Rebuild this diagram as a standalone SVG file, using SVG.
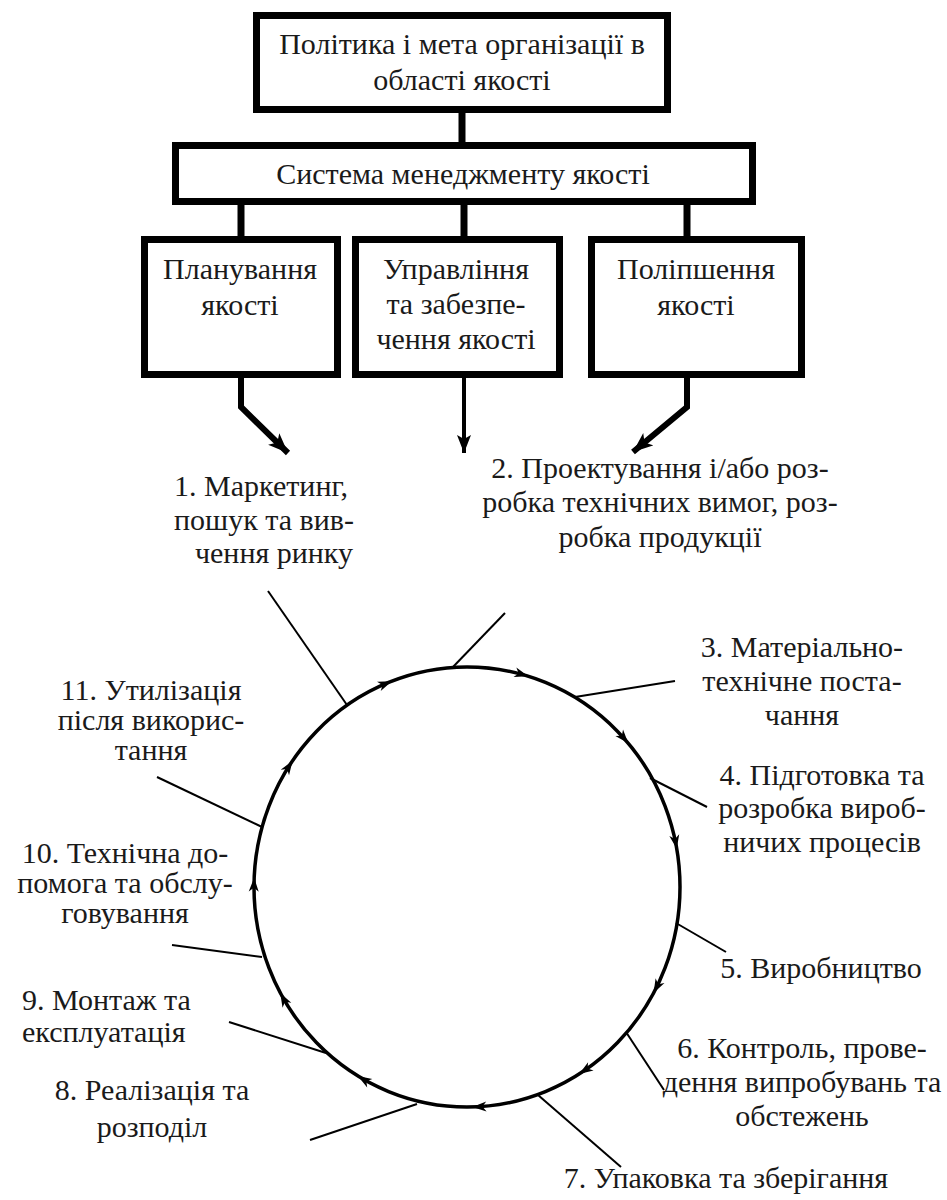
<svg xmlns="http://www.w3.org/2000/svg" width="947" height="1200" viewBox="0 0 947 1200">
<style>
  .box { fill: #ffffff; stroke: #000000; stroke-width: 7; }
  .t { font-size: 30px; fill: #1a1a1a; text-anchor: middle; }
  .ts { text-anchor: start; }
  .bar { stroke: #000000; stroke-width: 7; fill: none; }
  .thick { stroke: #000000; stroke-width: 6; fill: none; stroke-linejoin: miter; }
  .mid { stroke: #000000; stroke-width: 4; fill: none; }
  .ptr { stroke: #000000; stroke-width: 2; fill: none; }
  .ring { stroke: #000000; stroke-width: 3.5; fill: none; }
</style>
<defs>
  <marker id="big" markerUnits="userSpaceOnUse" markerWidth="24" markerHeight="20" refX="20" refY="8" orient="auto">
    <path d="M0,0 L20,8 L0,16 L5,8 Z" fill="#000000"/>
  </marker>
  <marker id="small" markerUnits="userSpaceOnUse" markerWidth="20" markerHeight="20" refX="18" refY="7" orient="auto">
    <path d="M0,0 L18,7 L0,14 L4,7 Z" fill="#000000"/>
  </marker>
  <path id="ah" d="M2,0 L-12,-5 L-8,0 L-12,5 Z" fill="#000000"/>
</defs>

<g font-family="Liberation Serif, Times New Roman, Times, serif">
<g id="node-policy">
  <rect class="box" x="256.5" y="15.5" width="411" height="94"/>
  <text class="t" x="462" y="54">Політика і мета організації в</text>
  <text class="t" x="462" y="90">області якості</text>
</g>
<g id="node-qms">
  <rect class="box" x="175.5" y="145.5" width="577" height="56"/>
  <text class="t" x="463" y="184">Система менеджменту якості</text>
</g>
<g id="node-planning">
  <rect class="box" x="144.5" y="239.5" width="193" height="135"/>
  <text class="t" x="240" y="279">Планування</text>
  <text class="t" x="240" y="315">якості</text>
</g>
<g id="node-control">
  <rect class="box" x="355.5" y="239.5" width="204" height="135"/>
  <text class="t" x="456" y="279">Управління</text>
  <text class="t" x="456" y="314">та забезпе-</text>
  <text class="t" x="456" y="349">чення якості</text>
</g>
<g id="node-improve">
  <rect class="box" x="591.5" y="239.5" width="210" height="135"/>
  <text class="t" x="696" y="279">Поліпшення</text>
  <text class="t" x="696" y="315">якості</text>
</g>

<g id="connectors">
  <line class="bar" x1="462" y1="112" x2="462" y2="143"/>
  <line class="bar" x1="241" y1="204" x2="241" y2="237"/>
  <line class="bar" x1="464" y1="204" x2="464" y2="237"/>
  <line class="bar" x1="687" y1="204" x2="687" y2="237"/>
  <polyline class="thick" points="241,377 241,407 288,453" marker-end="url(#big)"/>
  <line class="mid" x1="464" y1="377" x2="464" y2="453" marker-end="url(#small)"/>
  <polyline class="thick" points="687,377 687,407 633,452" marker-end="url(#big)"/>

  <ellipse class="ring" cx="467" cy="887" rx="213" ry="220"/>
  <use href="#ah" transform="translate(390,682) rotate(-21.8)"/>
  <use href="#ah" transform="translate(526.4,675.7) rotate(16.7)"/>
  <use href="#ah" transform="translate(627,741.8) rotate(49.6)"/>
  <use href="#ah" transform="translate(676.4,846.9) rotate(79.8)"/>
  <use href="#ah" transform="translate(654.5,991.3) rotate(117.5)"/>
  <use href="#ah" transform="translate(580.8,1072.9) rotate(146.8)"/>
  <use href="#ah" transform="translate(474.4,1106.9) rotate(177.9)"/>
  <use href="#ah" transform="translate(359.5,1077) rotate(-148.9)"/>
  <use href="#ah" transform="translate(281.2,994.7) rotate(-118.5)"/>
  <use href="#ah" transform="translate(254.1,879.7) rotate(-88.2)"/>
  <use href="#ah" transform="translate(291.5,762.4) rotate(-56.4)"/>

  <line class="ptr" x1="268" y1="591" x2="347" y2="705"/>
  <line class="ptr" x1="505" y1="613" x2="452" y2="668"/>
  <line class="ptr" x1="675" y1="681" x2="575" y2="697"/>
  <line class="ptr" x1="707" y1="807" x2="650" y2="778"/>
  <line class="ptr" x1="726" y1="952" x2="676" y2="923"/>
  <line class="ptr" x1="664" y1="1090" x2="626" y2="1032"/>
  <line class="ptr" x1="621" y1="1167" x2="538" y2="1095"/>
  <line class="ptr" x1="310" y1="1140" x2="417" y2="1104"/>
  <line class="ptr" x1="229" y1="1022" x2="326" y2="1053"/>
  <line class="ptr" x1="172" y1="945" x2="262" y2="957"/>
  <line class="ptr" x1="157" y1="777" x2="262" y2="827"/>
</g>

<g id="label-1">
  <text class="t" x="261" y="496">1. Маркетинг,</text>
  <text class="t" x="264" y="530">пошук та вив-</text>
  <text class="t" x="274" y="563">чення ринку</text>
</g>
<g id="label-2">
  <text class="t" x="660" y="478">2. Проектування і/або роз-</text>
  <text class="t" x="660" y="512">робка технічних вимог, роз-</text>
  <text class="t" x="660" y="547">робка продукції</text>
</g>
<g id="label-3">
  <text class="t" x="802" y="657">3. Матеріально-</text>
  <text class="t" x="802" y="691">технічне поста-</text>
  <text class="t" x="802" y="725">чання</text>
</g>
<g id="label-4">
  <text class="t" x="822" y="785">4. Підготовка та</text>
  <text class="t" x="822" y="818">розробка вироб-</text>
  <text class="t" x="822" y="852">ничих процесів</text>
</g>
<g id="label-5">
  <text class="t" x="821" y="978">5. Виробництво</text>
</g>
<g id="label-6">
  <text class="t" x="802" y="1058">6. Контроль, прове-</text>
  <text class="t" x="802" y="1092">дення випробувань та</text>
  <text class="t" x="802" y="1126">обстежень</text>
</g>
<g id="label-7">
  <text class="t" x="726" y="1188">7. Упаковка та зберігання</text>
</g>
<g id="label-8">
  <text class="t" x="152" y="1100">8. Реалізація та</text>
  <text class="t" x="152" y="1137">розподіл</text>
</g>
<g id="label-9">
  <text class="t ts" x="22" y="1010">9. Монтаж та</text>
  <text class="t ts" x="22" y="1042">експлуатація</text>
</g>
<g id="label-10">
  <text class="t" x="125" y="863">10. Технічна до-</text>
  <text class="t" x="125" y="893">помога та обслу-</text>
  <text class="t" x="125" y="923">говування</text>
</g>
<g id="label-11">
  <text class="t" x="151" y="700">11. Утилізація</text>
  <text class="t" x="151" y="730">після викорис-</text>
  <text class="t" x="151" y="760">тання</text>
</g>
</g>
</svg>
